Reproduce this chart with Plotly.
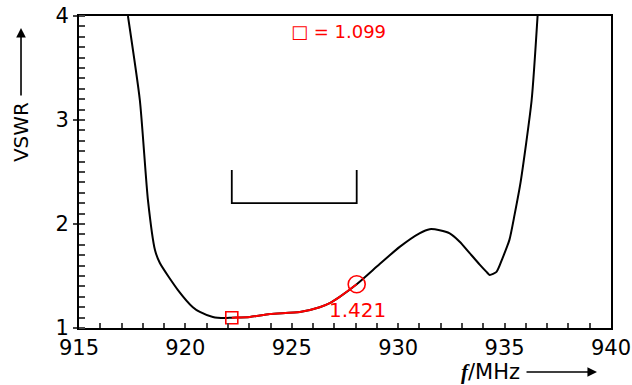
import plotly.graph_objects as go

# ---- data ----
freq_left = [917.30, 917.86, 918.24, 918.57, 918.80, 919.65, 920.35, 920.68, 921.29, 921.85]
vswr_left = [4.00, 3.19, 2.23, 1.75, 1.625, 1.365, 1.20, 1.154, 1.106, 1.096]

freq_red = [922.18, 923.03, 923.97, 925.38, 926.31, 926.78, 927.25, 928.05]
vswr_red = [1.099, 1.106, 1.135, 1.154, 1.200, 1.240, 1.300, 1.421]

freq_right = [929.13, 930.07, 931.00, 931.48, 931.95, 932.42, 932.89, 933.36, 933.83,
              934.15, 934.30, 934.62, 934.90, 935.23, 935.47, 935.75, 936.27, 936.55]
vswr_right = [1.615, 1.78, 1.91, 1.95, 1.94, 1.91, 1.83, 1.72, 1.61,
              1.54, 1.51, 1.54, 1.67, 1.85, 2.09, 2.40, 3.19, 4.00]

min_f, min_v = 922.18, 1.099
mark_f, mark_v = 928.05, 1.421
band_lo, band_hi = 922.18, 928.05
bracket_bottom, bracket_top = 2.20, 2.52

x_ticks = [915, 920, 925, 930, 935, 940]
y_ticks = [1, 2, 3, 4]

FONT = "DejaVu Sans"
RED = "#ff0000"

fig = go.Figure()

fig.add_trace(go.Scatter(
    x=freq_left + freq_red + freq_right,
    y=vswr_left + vswr_red + vswr_right,
    mode="lines", line=dict(color="black", width=2, shape="spline", smoothing=0.6),
    hoverinfo="skip", showlegend=False))

fig.add_trace(go.Scatter(
    x=freq_red, y=vswr_red, mode="lines",
    line=dict(color=RED, width=2, shape="spline", smoothing=0.6),
    hoverinfo="skip", showlegend=False))

fig.add_trace(go.Scatter(
    x=[min_f], y=[min_v], mode="markers",
    marker=dict(symbol="square-open", size=12, color=RED, line=dict(width=1.6, color=RED)),
    showlegend=False))
fig.add_trace(go.Scatter(
    x=[mark_f], y=[mark_v], mode="markers",
    marker=dict(symbol="circle-open", size=17, color=RED, line=dict(width=1.6, color=RED)),
    showlegend=False))

# dummy trace to carry the overlay axis for the inner major ticks
fig.add_trace(go.Scatter(x=[None], y=[None], yaxis="y2", showlegend=False, hoverinfo="skip"))

# bracket marking the band
fig.add_shape(type="path", xref="x", yref="y",
              path=f"M {band_lo} {bracket_top} L {band_lo} {bracket_bottom} L {band_hi} {bracket_bottom} L {band_hi} {bracket_top}",
              line=dict(color="black", width=1.8))

fig.add_annotation(x=mark_f, y=mark_v, xref="x", yref="y", text=f"{mark_v:.3f}",
                   showarrow=False, yshift=-26, xshift=1,
                   xanchor="center", yanchor="middle",
                   font=dict(family=FONT, size=20, color=RED))

fig.add_annotation(x=0.487, y=0.949, xref="paper", yref="paper",
                   text=f"\u25a1 = {min_v:.3f}", showarrow=False,
                   xanchor="center", yanchor="middle",
                   font=dict(family=FONT, size=18, color=RED))

# axis titles with arrows
fig.add_annotation(x=-0.109, y=0.628, xref="paper", yref="paper", text="VSWR",
                   textangle=-90, showarrow=False,
                   xanchor="center", yanchor="middle",
                   font=dict(family=FONT, size=20, color="black"))
fig.add_annotation(x=-0.109, y=0.9615, xref="paper", yref="paper", text="",
                   showarrow=True, ax=0, ay=69, arrowhead=2, arrowsize=1.2,
                   arrowwidth=1.6, arrowcolor="black")

fig.add_annotation(x=0.7726, y=-0.141, xref="paper", yref="paper",
                   text="<span style='font-family:Liberation Serif'><b><i>f</i></b></span>/MHz",
                   showarrow=False, xanchor="center", yanchor="middle",
                   font=dict(family=FONT, size=21, color="black"))
fig.add_annotation(x=0.9737, y=-0.141, xref="paper", yref="paper", text="",
                   showarrow=True, ax=-72, ay=0, arrowhead=2, arrowsize=1.2,
                   arrowwidth=1.6, arrowcolor="black")

fig.update_layout(
    width=632, height=385,
    margin=dict(l=79, r=21, t=16, b=57, autoexpand=False),
    paper_bgcolor="white", plot_bgcolor="white",
    xaxis=dict(range=[915, 940], tickvals=x_ticks, ticks="inside", ticklen=5, tickwidth=1.5,
               minor=dict(dtick=1, ticks="inside", ticklen=5, tickwidth=1.5, showgrid=False),
               showline=True, linewidth=2, linecolor="black", mirror=True,
               showgrid=False, zeroline=False, automargin=False,
               tickfont=dict(family=FONT, size=21, color="black")),
    yaxis=dict(range=[1, 4], tickvals=y_ticks, ticks="outside", ticklen=4, tickwidth=1.5,
               minor=dict(dtick=0.1, ticks="inside", ticklen=6, tickwidth=1.5, showgrid=False),
               showline=True, linewidth=2, linecolor="black", mirror=True,
               showgrid=False, zeroline=False, automargin=False,
               tickfont=dict(family=FONT, size=21, color="black")),
    yaxis2=dict(range=[1, 4], overlaying="y", side="left", tickvals=y_ticks,
                ticks="inside", ticklen=6, tickwidth=1.5, showticklabels=False,
                showline=False, showgrid=False, zeroline=False, automargin=False),
)

fig.write_html("out.html", config={"displayModeBar": False},
               post_script="document.body.style.margin='0';document.body.style.overflow='hidden';")
